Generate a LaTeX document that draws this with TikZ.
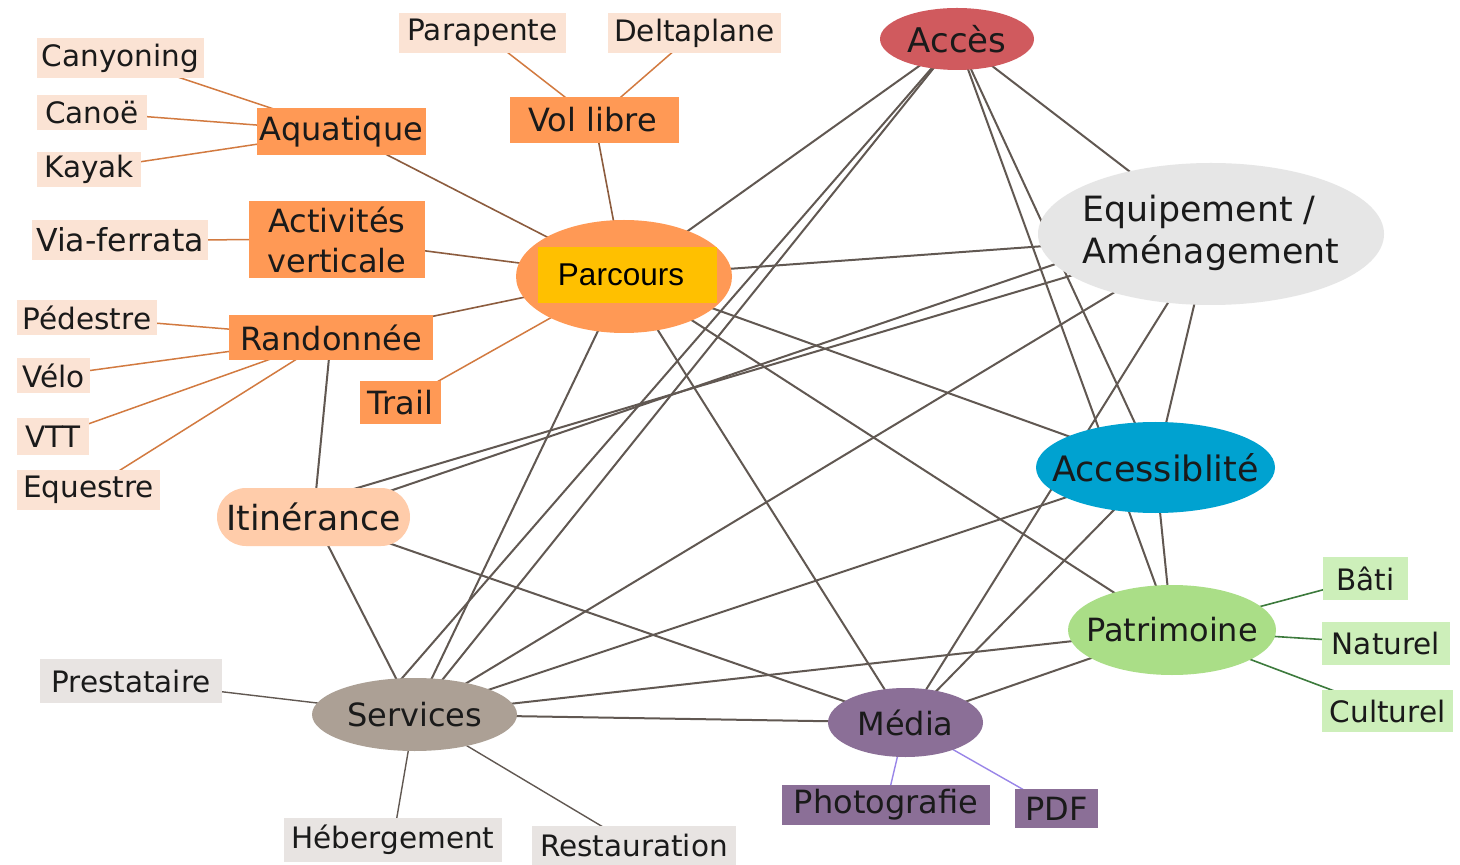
\documentclass[tikz,border=0pt]{standalone}
\usepackage{fontspec}
\setmainfont{DejaVu Sans}
\newfontfamily\arialf{Liberation Sans}
\usetikzlibrary{shapes.geometric}
\pgfdeclarelayer{bg}
\pgfsetlayers{bg,main}
\definecolor{peach}{HTML}{FBE3D4}
\definecolor{orng}{HTML}{FF9955}
\definecolor{itinc}{HTML}{FFCCAA}
\definecolor{yell}{HTML}{FFC000}
\definecolor{accc}{HTML}{D05A5E}
\definecolor{equc}{HTML}{E6E6E6}
\definecolor{acsc}{HTML}{00A2D0}
\definecolor{patc}{HTML}{AADE87}
\definecolor{greenl}{HTML}{CDEFBA}
\definecolor{medc}{HTML}{8B6F97}
\definecolor{srvc}{HTML}{ACA095}
\definecolor{greyl}{HTML}{E8E4E2}
\definecolor{txt}{HTML}{1A1A1A}
\definecolor{gline}{HTML}{615852}
\definecolor{oline}{HTML}{D27A40}
\definecolor{bline}{HTML}{8C5C3E}
\definecolor{vline}{HTML}{3C7A3C}
\definecolor{pline}{HTML}{9985E8}
\newcommand{\zw}[1]{\makebox[0pt]{#1}}
\begin{document}
\begin{tikzpicture}[x=0.5pt,y=-0.5pt,
  base/.style={inner sep=0pt, text=txt},
  leaf/.style={base, rectangle, fill=peach, font=\fontsize{14.75}{17}\selectfont},
  cat/.style={base, rectangle, fill=orng, font=\fontsize{16}{20}\selectfont},
  gleaf/.style={base, rectangle, fill=greyl, font=\fontsize{14.75}{17}\selectfont},
  vleaf/.style={base, rectangle, fill=greenl, font=\fontsize{14.75}{17}\selectfont},
  pleaf/.style={base, rectangle, fill=medc, font=\fontsize{16}{19}\selectfont},
  ell/.style={base, ellipse, font=\fontsize{16}{19}\selectfont},
  gedge/.style={draw=gline, line width=1pt},
  sedge/.style={draw=gline, line width=0.7pt},
  oedge/.style={draw=oline, line width=0.75pt},
  bedge/.style={draw=bline, line width=0.8pt},
  vedge/.style={draw=vline, line width=0.8pt},
  pedge/.style={draw=pline, line width=0.7pt}]
\useasboundingbox (0,0) rectangle (1460,865);

% activity leaves
\node[leaf, minimum width=83.5pt, minimum height=20pt] (cany) at (120.5,58) {Canyoning};
\node[leaf, minimum width=55pt, minimum height=17.5pt] (canoe) at (92,112.5) {Canoë};
\node[leaf, minimum width=52pt, minimum height=17.5pt] (kayak) at (89,169.5) {Kayak};
\node[leaf, minimum width=88pt, minimum height=20pt, font=\fontsize{15.8}{18}\selectfont] (via) at (120,240) {Via-ferrata};
\node[leaf, minimum width=83.5pt, minimum height=20pt] (para) at (482.5,33) {Parapente};
\node[leaf, minimum width=86.5pt, minimum height=20pt] (delta) at (694.5,33) {Deltaplane};
\node[leaf, minimum width=70pt, minimum height=17.5pt] (ped) at (87,317.5) {Pédestre};
\node[leaf, minimum width=36.5pt, minimum height=17.5pt] (velo) at (53.5,375.5) {Vélo};
\node[leaf, minimum width=36pt, minimum height=18.5pt] (vtt) at (53,436.5) {VTT};
\node[leaf, minimum width=71.5pt, minimum height=20pt] (eqst) at (88.5,490) {Equestre};

% categories
\node[cat, minimum width=84.5pt, minimum height=23.5pt] (aqua) at (341.5,131.5) {Aquatique};
\node[cat, minimum width=88pt, minimum height=38.5pt, align=center] (act) at (337,239.5) {Activités\\verticale};
\node[cat, minimum width=84.5pt, minimum height=23pt] (vol) at (594.5,120) {\hspace{-2pt}Vol libre\hspace{2pt}};
\node[cat, minimum width=102pt, minimum height=22.5pt] (rando) at (331,337.5) {Randonnée};
\node[cat, minimum width=40.5pt, minimum height=21.5pt] (trail) at (400.5,402.5) {Trail};
\node[base, rectangle, rounded corners=14.5pt, fill=itinc, minimum width=96.5pt, minimum height=29pt, font=\fontsize{17.3}{20}\selectfont] (itin) at (313.5,517) {Itinérance};

% main ellipses
\node[ell, fill=orng, minimum width=108pt, minimum height=56.5pt] (par) at (624,276.5) {};
\node[base, rectangle, fill=yell, minimum width=89.5pt, minimum height=28pt, text=black, font=\arialf\fontsize{15.75}{18}\selectfont] (parlab) at (627.5,275) {\hspace{-6.5pt}Parcours\hspace{6.5pt}};
\node[ell, fill=accc, minimum width=77pt, minimum height=31pt, font=\fontsize{17}{20}\selectfont] (acc) at (957,39) {\zw{Accès}};
\node[ell, fill=equc, minimum width=173pt, minimum height=71pt, font=\fontsize{17.4}{21}\selectfont] (equ) at (1211,234) {\zw{\begin{tabular}{@{}l@{}}Equipement /\\Aménagement\end{tabular}}};
\node[ell, fill=acsc, minimum width=119.5pt, minimum height=45.5pt, font=\fontsize{17.5}{20}\selectfont] (acs) at (1155.5,467.5) {\zw{Accessiblité}};
\node[ell, fill=patc, minimum width=104pt, minimum height=45pt] (pat) at (1172,630) {\zw{Patrimoine}};
\node[ell, fill=medc, minimum width=77.5pt, minimum height=34.5pt] (med) at (905.5,722.5) {\zw{Média}};
\node[ell, fill=srvc, minimum width=102.5pt, minimum height=36.5pt] (srv) at (414.5,714.5) {\zw{Services}};

% service leaves
\node[gleaf, minimum width=91pt, minimum height=22pt] (prest) at (131,681) {Prestataire};
\node[gleaf, minimum width=109pt, minimum height=22pt] (heb) at (393,840) {Hébergement};
\node[gleaf, minimum width=102pt, minimum height=19.5pt] (rest) at (634,845.5) {Restauration};
% media leaves
\node[pleaf, minimum width=104pt, minimum height=20pt] (photo) at (886,805) {Photografie};
\node[pleaf, minimum width=41.5pt, minimum height=19.5pt] (pdf) at (1056.5,808.5) {PDF};
% patrimoine leaves
\node[vleaf, minimum width=42.5pt, minimum height=21.5pt] (bati) at (1365.5,578.5) {Bâti};
\node[vleaf, minimum width=64pt, minimum height=21.5pt] (nat) at (1386,643.5) {Naturel};
\node[vleaf, minimum width=65.5pt, minimum height=21pt] (cult) at (1387.5,711) {Culturel};

\begin{pgfonlayer}{bg}
\fill[white] (0,0) rectangle (1460,865);
% activity tree
\draw[oedge] (cany.center) -- (aqua.center);
\draw[oedge] (canoe.center) -- (aqua.center);
\draw[oedge] (kayak.center) -- (aqua.center);
\draw[oedge] (via.center) -- (act.center);
\draw[oedge] (para.center) -- (vol.center);
\draw[oedge] (delta.center) -- (vol.center);
\draw[oedge] (ped.center) -- (rando.center);
\draw[oedge] (velo.center) -- (rando.center);
\draw[oedge] (vtt.center) -- (rando.center);
\draw[oedge] (eqst.center) -- (rando.center);
\draw[bedge] (aqua.center) -- (par.center);
\draw[bedge] (act.center) -- (par.center);
\draw[bedge] (vol.center) -- (par.center);
\draw[bedge] (rando.center) -- (par.center);
\draw[oedge] (trail.center) -- (par.center);
\draw[gedge] (rando.center) -- (itin.center);
% main network
\draw[gedge] (acc.center) -- (par.center);
\draw[gedge] (acc.center) -- (srv.center);
\draw[gedge] (acc.center) -- ([xshift=-22pt]srv.center);
\draw[gedge] (acc.center) -- (equ.center);
\draw[gedge] (acc.center) -- (acs.center);
\draw[gedge] (acc.center) -- (pat.center);
\draw[gedge] (par.center) -- (equ.center);
\draw[gedge] (par.center) -- (acs.center);
\draw[gedge] (par.center) -- (pat.center);
\draw[gedge] (par.center) -- (med.center);
\draw[gedge] (par.center) -- (srv.center);
\draw[gedge] (equ.center) -- (srv.center);
\draw[gedge] (equ.center) -- (med.center);
\draw[gedge] (equ.center) -- (acs.center);
\draw[gedge] ([yshift=8pt]itin.center) -- (equ.center);
\draw[gedge] (itin.center) -- ([yshift=11.5pt]equ.center);
\draw[gedge] (itin.center) -- (srv.center);
\draw[gedge] (itin.center) -- (med.center);
\draw[gedge] (srv.center) -- (acs.center);
\draw[gedge] (srv.center) -- (pat.center);
\draw[gedge] (srv.center) -- (med.center);
\draw[gedge] (acs.center) -- (med.center);
\draw[gedge] (acs.center) -- (pat.center);
\draw[gedge] (med.center) -- (pat.center);
% leaves
\draw[sedge] (srv.center) -- (prest.center);
\draw[sedge] (srv.center) -- (heb.center);
\draw[sedge] (srv.center) -- (rest.center);
\draw[pedge] (med.center) -- (photo.center);
\draw[pedge] (med.center) -- (pdf.center);
\draw[vedge] (pat.center) -- (bati.center);
\draw[vedge] (pat.center) -- (nat.center);
\draw[vedge] (pat.center) -- (cult.center);
\end{pgfonlayer}
\end{tikzpicture}
\end{document}
